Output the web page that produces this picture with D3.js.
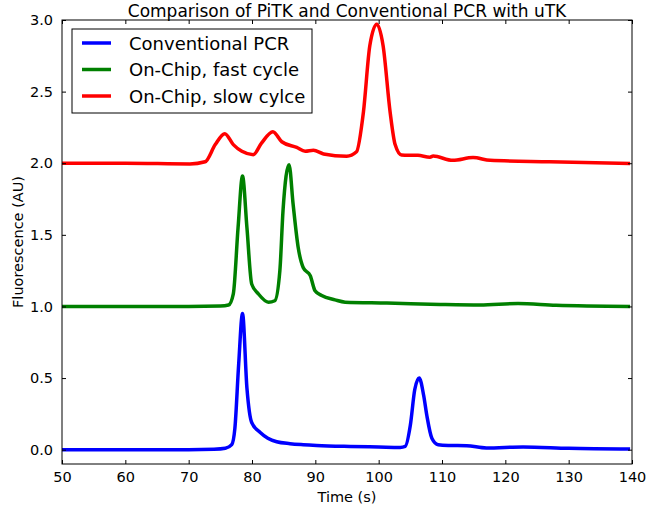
<!DOCTYPE html>
<html>
<head>
<meta charset="utf-8">
<script src="https://cdn.jsdelivr.net/npm/d3@7"></script>
<style>
  body { margin: 0; background: #fff; }
  text { font-family: "DejaVu Sans", sans-serif; }
</style>
</head>
<body>
<div id="chart"></div>
<script>
// series: time (s) and fluorescence (AU)
const convTime = [50, 60, 70, 74, 75.8, 76.8, 77.3, 77.9, 78.5, 79.2, 79.95, 81.3, 82.5, 83.9, 86, 88.1, 90.2, 95.5, 100, 103.4, 104.2, 105, 105.7, 106.4, 107.1, 107.6, 108.4, 109.4, 111, 113.9, 117, 122.8, 130, 139.7];
const convVals = [0, 0, 0, 0.003, 0.01, 0.035, 0.15, 0.6, 0.95, 0.43, 0.19, 0.12, 0.08, 0.055, 0.042, 0.035, 0.03, 0.023, 0.019, 0.016, 0.023, 0.17, 0.42, 0.5, 0.38, 0.24, 0.08, 0.035, 0.03, 0.028, 0.012, 0.019, 0.01, 0.005];

const fastTime = [50, 60, 70, 75, 76.3, 77.05, 77.8, 78.5, 79.2, 79.95, 81, 82.6, 83.6, 84.4, 84.9, 85.85, 86.5, 87.3, 88.1, 89.2, 89.95, 91, 93.1, 94.7, 101.3, 109.7, 116, 122, 128, 139.7];
const fastVals = [1.0, 1.0, 1.0, 1.003, 1.01, 1.088, 1.55, 1.91, 1.55, 1.157, 1.088, 1.03, 1.04, 1.25, 1.67, 1.99, 1.71, 1.41, 1.27, 1.215, 1.11, 1.076, 1.046, 1.03, 1.024, 1.014, 1.01, 1.02, 1.008, 1.0];

const slowTime = [50, 60, 70.2, 72.6, 74.2, 75.7, 77.05, 78.4, 80.2, 81.5, 83.3, 84.7, 87.06, 88.4, 89.7, 91.3, 94.95, 96.5, 97.6, 98.6, 99.7, 100.7, 101.8, 102.6, 103.6, 106.2, 108.1, 108.6, 111.7, 114.9, 117.6, 127, 139.7];
const slowVals = [2.0, 2.0, 1.995, 2.01, 2.13, 2.206, 2.13, 2.083, 2.06, 2.14, 2.22, 2.15, 2.11, 2.083, 2.09, 2.065, 2.049, 2.08, 2.36, 2.82, 2.97, 2.82, 2.36, 2.13, 2.058, 2.055, 2.042, 2.05, 2.02, 2.04, 2.02, 2.01, 1.998];

const seriesNames = ["Conventional PCR", "On-Chip, fast cycle", "On-Chip, slow cylce"];
const seriesColors = ["#0000ff", "#008000", "#ff0000"];

const xTicks = [50, 60, 70, 80, 90, 100, 110, 120, 130, 140];
const yTicks = [0.0, 0.5, 1.0, 1.5, 2.0, 2.5, 3.0];

const W = 646, H = 511;
const margin = {top: 20, right: 14, bottom: 47, left: 62};
const width = W - margin.left - margin.right;
const height = H - margin.top - margin.bottom;

const svg = d3.select('#chart').append('svg')
  .attr('width', W).attr('height', H);

const g = svg.append('g')
  .attr('transform', 'translate(' + margin.left + ',' + margin.top + ')');

const x = d3.scaleLinear().domain([50, 140]).range([0, width]);
const y = d3.scaleLinear().domain([-0.1, 3.0]).range([height, 0]);

// curves
const series = [
  {time: convTime, vals: convVals},
  {time: fastTime, vals: fastVals},
  {time: slowTime, vals: slowVals}
];

const line = d3.line()
  .x(d => x(d[0]))
  .y(d => y(d[1]))
  .curve(d3.curveMonotoneX);

g.append('defs').append('clipPath').attr('id', 'clip')
  .append('rect').attr('width', width).attr('height', height);

series.forEach((s, i) => {
  g.append('path')
    .attr('clip-path', 'url(#clip)')
    .attr('d', line(s.time.map((t, j) => [t, s.vals[j]])))
    .attr('fill', 'none')
    .attr('stroke', seriesColors[i])
    .attr('stroke-width', 3.5)
    .attr('stroke-linejoin', 'round');
});

// axes with inward ticks on all sides
const fmt = d3.format('.1f');
const axB = g.append('g').attr('transform', 'translate(0,' + height + ')')
  .call(d3.axisBottom(x).tickValues(xTicks).tickSizeInner(-4).tickSizeOuter(0).tickPadding(8));
const axT = g.append('g')
  .call(d3.axisTop(x).tickValues(xTicks).tickSizeInner(-4).tickSizeOuter(0).tickFormat(''));
const axL = g.append('g')
  .call(d3.axisLeft(y).tickValues(yTicks).tickSizeInner(-4).tickSizeOuter(0).tickPadding(9).tickFormat(fmt));
const axR = g.append('g').attr('transform', 'translate(' + width + ',0)')
  .call(d3.axisRight(y).tickValues(yTicks).tickSizeInner(-4).tickSizeOuter(0).tickFormat(''));

[axB, axT, axL, axR].forEach(a => {
  a.select('.domain').remove();
  a.selectAll('line').attr('stroke', '#000');
  a.selectAll('text').attr('fill', '#000').style('font-size', '14.5px');
});

g.append('rect')
  .attr('width', width).attr('height', height)
  .attr('fill', 'none').attr('stroke', '#000').attr('stroke-width', 1);

// labels
svg.append('text')
  .attr('x', margin.left + width / 2).attr('y', 16.5)
  .attr('text-anchor', 'middle').style('font-size', '17px')
  .text('Comparison of PiTK and Conventional PCR with uTK');

svg.append('text')
  .attr('x', margin.left + width / 2).attr('y', 502)
  .attr('text-anchor', 'middle').style('font-size', '14.5px')
  .text('Time (s)');

svg.append('text')
  .attr('transform', 'translate(23,' + (margin.top + height / 2) + ') rotate(-90)')
  .attr('text-anchor', 'middle').style('font-size', '14.5px')
  .text('Fluorescence (AU)');

// legend
const leg = svg.append('g').attr('transform', 'translate(72,29)');
leg.append('rect')
  .attr('width', 240).attr('height', 84)
  .attr('fill', '#fff').attr('stroke', '#000').attr('stroke-width', 1);

seriesNames.forEach((name, i) => {
  const yy = 14 + i * 26.5;
  leg.append('line')
    .attr('x1', 10).attr('x2', 39).attr('y1', yy).attr('y2', yy)
    .attr('stroke', seriesColors[i]).attr('stroke-width', 3.5);
  leg.append('text')
    .attr('x', 57).attr('y', yy + 6.5)
    .style('font-size', '18px')
    .text(name);
});
</script>
</body>
</html>
